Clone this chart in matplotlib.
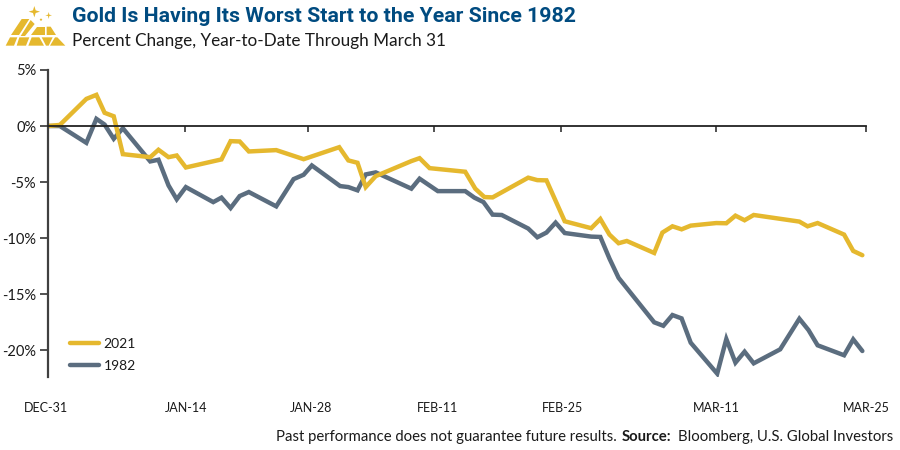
import matplotlib
matplotlib.use("Agg")
import matplotlib.pyplot as plt
from matplotlib.patches import Polygon
from matplotlib.transforms import ScaledTranslation

# Values, x = days after Dec-31
days_2021 = [0, 1.3, 4.2, 5.3, 6.2, 7.2, 8.2, 11.2, 12.1, 13.2, 14.1, 15.1, 19.0, 20.0, 21.0, 22.0,
             25.0, 28.0, 31.9, 32.9, 33.9, 34.8, 35.9, 39.8, 40.7, 41.8, 45.7, 46.8, 47.8, 48.7,
             52.6, 53.6, 54.6, 56.6, 59.5, 60.5, 61.5, 62.5, 63.4, 66.4, 67.3, 68.4, 69.4, 70.4,
             73.2, 74.3, 75.3, 76.3, 77.3, 82.3, 83.2, 84.3, 87.2, 88.2, 89.2]
gold_2021 = [0, 0.1, 2.42, 2.78, 1.18, 0.87, -2.51, -2.78, -2.12, -2.78, -2.63, -3.70, -2.98, -1.35,
             -1.38, -2.27, -2.15, -2.96, -1.89, -3.07, -3.28, -5.45, -4.47, -3.13, -2.87, -3.76,
             -4.08, -5.59, -6.34, -6.37, -4.61, -4.83, -4.85, -8.50, -9.12, -8.30, -9.69, -10.46,
             -10.26, -11.33, -9.51, -8.95, -9.22, -8.89, -8.66, -8.68, -8.00, -8.41, -7.94, -8.53,
             -8.95, -8.66, -9.69, -11.15, -11.53]

days_1982 = [0, 1.3, 4.2, 5.3, 6.2, 7.2, 8.2, 11.2, 12.1, 13.2, 14.1, 15.1, 18.1, 19.0, 20.0, 21.0,
             22.0, 25.0, 26.9, 28.0, 28.9, 32.0, 32.9, 33.9, 34.8, 35.9, 39.8, 40.7, 42.7, 45.7,
             46.7, 47.7, 48.7, 49.7, 52.6, 53.6, 54.6, 55.6, 56.6, 59.5, 60.5, 61.5, 62.5, 66.4,
             67.4, 68.4, 69.4, 70.4, 73.3, 74.3, 75.3, 76.3, 77.3, 80.2, 82.3, 83.3, 84.3, 87.2,
             88.2, 89.2]
gold_1982 = [0, 0, -1.50, 0.64, 0.13, -1.14, -0.20, -3.16, -3.01, -5.30, -6.54, -5.45, -6.79, -6.39,
             -7.32, -6.25, -5.89, -7.17, -4.74, -4.35, -3.52, -5.36, -5.45, -5.74, -4.32, -4.14,
             -5.59, -4.70, -5.81, -5.81, -6.39, -6.79, -7.91, -7.94, -9.15, -9.93, -9.51, -8.62,
             -9.55, -9.87, -9.90, -11.83, -13.55, -17.52, -17.83, -16.87, -17.17, -19.34, -22.10,
             -19.01, -21.12, -20.14, -21.18, -19.93, -17.20, -18.21, -19.57, -20.46, -19.04, -20.08]

x_ticks = [0, 15, 28.5, 42.3, 56.2, 73.2, 89.6]
x_labels = ["DEC-31", "JAN-14", "JAN-28", "FEB-11", "FEB-25", "MAR-11", "MAR-25"]
y_ticks = [5, 0, -5, -10, -15, -20]
y_labels = ["5%", "0%", "-5%", "-10%", "-15%", "-20%"]

GOLD = "#E5B82E"
SLATE = "#5B6D7F"
NAVY = "#004B80"
INK = "#1a1a1a"

plt.rcParams["font.family"] = ["Lato", "DejaVu Sans"]

fig = plt.figure(figsize=(9, 4.5), dpi=100)
ax = fig.add_axes([48 / 900, 1 - 377 / 450, (866 - 48) / 900, (377 - 70) / 450])

ax.plot(days_1982, gold_1982, color=SLATE, lw=3.2, label="1982",
        solid_capstyle="round", solid_joinstyle="miter")
ax.plot(days_2021, gold_2021, color=GOLD, lw=3.2, label="2021",
        solid_capstyle="round", solid_joinstyle="miter")

ax.set_xlim(0, 89.6)
ax.set_ylim(-22.4, 5)

# Axis styling
for side in ["top", "right"]:
    ax.spines[side].set_visible(False)
ax.spines["left"].set_color("#404040")
ax.spines["left"].set_linewidth(1.6)
ax.spines["bottom"].set_position(("data", 0))
ax.spines["bottom"].set_color("#222222")
ax.spines["bottom"].set_linewidth(1.3)

ax.set_yticks(y_ticks, y_labels)
ax.tick_params(axis="y", length=5.5, width=1.1, color="#222222", pad=3, labelsize=10.5, labelcolor=INK)
ax.set_xticks(x_ticks, x_labels)
ax.tick_params(axis="x", length=4.5, width=1.1, color="#222222", pad=194, labelsize=9, labelcolor=INK)

# Labels are not quite centred on their ticks in the original
label_shift = [-2, 1, 3, 3, 1, 0, 0]
for lab, dx in zip(ax.get_xticklabels(), label_shift):
    lab.set_transform(lab.get_transform() + ScaledTranslation(dx / 100, 0, fig.dpi_scale_trans))

handles, labels = ax.get_legend_handles_labels()
ax.legend(handles[::-1], labels[::-1], loc="lower left", bbox_to_anchor=(0.012, -0.024), frameon=False,
          fontsize=10, handlelength=2.05, handletextpad=0.35, labelspacing=0.72, labelcolor=INK)

# Overlay in pixel coordinates for header, logo and footer
ov = fig.add_axes([0, 0, 1, 1], facecolor="none")
ov.set_xlim(0, 900)
ov.set_ylim(450, 0)
ov.axis("off")

ov.text(72, 17, "Gold Is Having Its Worst Start to the Year Since 1982", color=NAVY, fontsize=15.3,
        fontweight="bold", va="center", ha="left", family=["Liberation Sans Narrow", "Roboto"])
ov.text(72, 41, "Percent Change, Year-to-Date Through March 31", color=INK, fontsize=12.35,
        va="center", ha="left")

ov.text(617, 437, "Past performance does not guarantee future results.", color=INK, fontsize=10.7,
        va="center", ha="right")
ov.text(622, 437, "Source:", color=INK, fontsize=10.7, fontweight="bold", va="center", ha="left")
ov.text(678, 437, "Bloomberg, U.S. Global Investors", color=INK, fontsize=10.7, va="center", ha="left")

# Gold bar logo
logo_bars = [
    [(65, 57), (88, 57), (57, 105), (33, 105)],
    [(92, 60), (104, 72), (75, 108), (62, 108)],
    [(112, 80), (135, 80), (135, 105), (92, 105)],
    [(140, 80), (152, 80), (168, 105), (140, 105)],
    [(30, 112), (52, 112), (42, 137), (17, 137)],
    [(58, 112), (88, 112), (78, 137), (50, 137)],
    [(95, 112), (118, 112), (132, 137), (85, 137)],
    [(125, 112), (158, 112), (146, 137), (138, 137)],
    [(165, 112), (172, 112), (196, 137), (150, 137)],
    [(103, 18), (107, 31), (120, 35), (107, 39), (103, 52), (99, 39), (86, 35), (99, 31)],
    [(146, 36), (148, 44), (156, 46), (148, 48), (146, 57), (144, 48), (136, 46), (144, 44)],
    [(123, 55), (127, 59), (123, 63), (119, 59)],
]
for bar in logo_bars:
    ov.add_patch(Polygon([(px / 3, py / 3) for px, py in bar], closed=True, color=GOLD, lw=0))

fig.savefig("out.png", dpi=100)
